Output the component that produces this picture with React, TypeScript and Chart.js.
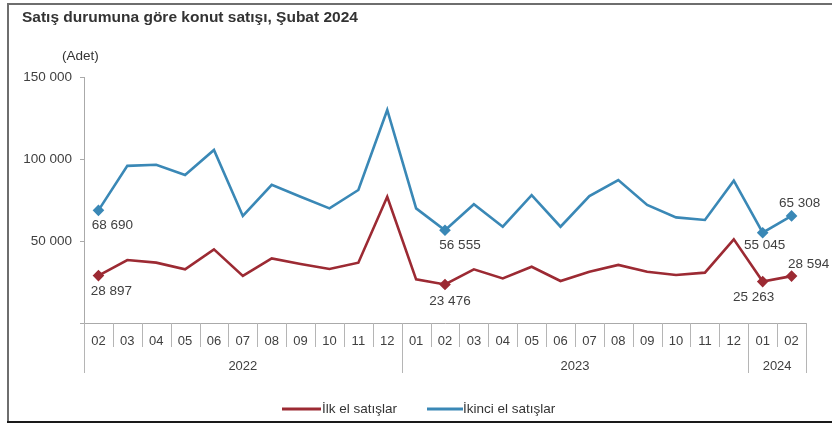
import React, { useEffect, useRef } from 'react';
import { Chart, registerables } from 'chart.js';

Chart.register(...registerables);

const months = ['02','03','04','05','06','07','08','09','10','11','12','01','02','03','04','05','06','07','08','09','10','11','12','01','02'];
const yearLabels = ['2022', '2023', '2024'];
const yearSpans = [11, 12, 2];

const ilkEl = [28897, 38400, 36800, 32700, 44900, 28700, 39400, 36000, 32900, 36800, 77000, 26600, 23476, 32700, 27200, 34300, 25600, 31300, 35400, 31300, 29300, 30700, 51000, 25263, 28594];
const ikinciEl = [68690, 95800, 96500, 90200, 105500, 65300, 84200, 77000, 69900, 81100, 129900, 69900, 56555, 72400, 58700, 78000, 58700, 77400, 87200, 72000, 64400, 62800, 86800, 55045, 65308];

const seriesNames = ['İlk el satışlar', 'İkinci el satışlar'];
const yTicks = [0, 50000, 100000, 150000];
const labeledIdx = [0, 12, 23, 24];

const title = 'Satış durumuna göre konut satışı, Şubat 2024';
const unitLabel = '(Adet)';

const RED = '#9c2a33';
const BLUE = '#3a88b6';
const FONT = "'Liberation Sans', Arial, sans-serif";

// label offsets (style only): [dx, dy] per labeled point
const labelOffsets: Record<number, [number, number][]> = {
  0: [[13, 16], [5, 17], [-9, 16], [17, -12]],
  1: [[14, 15], [15, 15], [2, 13], [8, -13]],
};

const fmt = (v: number) => {
  const s = Math.round(v).toString();
  return s.replace(/\B(?=(\d{3})+(?!\d))/g, ' ');
};

export default function App() {
  const ref = useRef<HTMLCanvasElement>(null);

  useEffect(() => {
    document.body.style.margin = '0';
    const canvas = ref.current!;
    const decor = {
      id: 'decor',
      afterDraw(chart: any) {
        const ctx = chart.ctx as CanvasRenderingContext2D;
        const area = chart.chartArea;
        const xs = chart.scales.x;
        ctx.save();
        // frame
        ctx.fillStyle = '#6e6e6e';
        ctx.fillRect(7, 3, 832, 2);
        ctx.fillRect(7, 3, 2, 420);
        ctx.fillStyle = '#1a1a1a';
        ctx.fillRect(7, 421, 832, 2);
        // title
        ctx.fillStyle = '#333';
        ctx.textBaseline = 'middle';
        ctx.textAlign = 'left';
        ctx.font = `bold 15.5px ${FONT}`;
        ctx.fillText(title, 22, 18);
        ctx.font = `13.5px ${FONT}`;
        ctx.fillText(unitLabel, 62, 56);

        // x axis category boxes
        const n = months.length;
        const bound = (i: number) => {
          if (i <= 0) return area.left;
          if (i >= n) return area.right;
          return (xs.getPixelForValue(i - 1) + xs.getPixelForValue(i)) / 2;
        };
        const yearBounds = new Set<number>([0]);
        let acc = 0;
        yearSpans.forEach((s) => { acc += s; yearBounds.add(acc); });
        ctx.strokeStyle = '#b5b5b5';
        ctx.lineWidth = 1;
        for (let i = 0; i <= n; i++) {
          const x = Math.round(bound(i)) + 0.5;
          ctx.beginPath();
          ctx.moveTo(x, area.bottom);
          ctx.lineTo(x, yearBounds.has(i) ? area.bottom + 50 : area.bottom + 24);
          ctx.stroke();
        }
        ctx.fillStyle = '#404040';
        ctx.textAlign = 'center';
        ctx.font = `13px ${FONT}`;
        months.forEach((m, i) => {
          ctx.fillText(m, xs.getPixelForValue(i), area.bottom + 18);
        });
        let start = 0;
        yearLabels.forEach((y, k) => {
          const end = start + yearSpans[k];
          ctx.fillText(y, (bound(start) + bound(end)) / 2, area.bottom + 43);
          start = end;
        });

        // data labels
        ctx.font = `13.5px ${FONT}`;
        [ilkEl, ikinciEl].forEach((arr, di) => {
          const meta = chart.getDatasetMeta(di);
          labeledIdx.forEach((idx, k) => {
            const p = meta.data[idx];
            const [dx, dy] = labelOffsets[di][k];
            ctx.fillText(fmt(arr[idx]), p.x + dx, p.y + dy);
          });
        });

        // legend
        const ly = 409;
        ctx.lineWidth = 3;
        ctx.strokeStyle = RED;
        ctx.beginPath(); ctx.moveTo(282, ly); ctx.lineTo(321, ly); ctx.stroke();
        ctx.strokeStyle = BLUE;
        ctx.beginPath(); ctx.moveTo(427, ly); ctx.lineTo(463, ly); ctx.stroke();
        ctx.fillStyle = '#333';
        ctx.textAlign = 'left';
        ctx.font = `13.5px ${FONT}`;
        ctx.fillText(seriesNames[0], 322, ly);
        ctx.fillText(seriesNames[1], 463, ly);
        ctx.restore();
      },
    };

    const pointR = (c: any) => (labeledIdx.includes(c.dataIndex) ? 4 : 0);

    const chart = new Chart(canvas, {
      type: 'line',
      data: {
        labels: months,
        datasets: [
          { label: seriesNames[0], data: ilkEl, borderColor: RED, backgroundColor: RED, borderWidth: 2.6, tension: 0, pointStyle: 'rectRot', pointRadius: pointR, pointHoverRadius: pointR },
          { label: seriesNames[1], data: ikinciEl, borderColor: BLUE, backgroundColor: BLUE, borderWidth: 2.6, tension: 0, pointStyle: 'rectRot', pointRadius: pointR, pointHoverRadius: pointR },
        ],
      },
      options: {
        animation: false,
        responsive: false,
        maintainAspectRatio: false,
        layout: { padding: { top: 77, right: 26, bottom: 52, left: 0 } },
        plugins: { legend: { display: false }, tooltip: { enabled: false }, title: { display: false } },
        scales: {
          x: {
            offset: true,
            grid: { display: false },
            ticks: { display: false },
            border: { display: true, color: '#aaaaaa' },
            afterFit: (s: any) => { s.height = 50; },
          },
          y: {
            min: yTicks[0],
            max: yTicks[yTicks.length - 1],
            afterBuildTicks: (s: any) => { s.ticks = yTicks.map((v) => ({ value: v })); },
            ticks: {
              padding: 8,
              color: '#404040',
              font: { family: FONT, size: 13.5 },
              callback: (v: any) => (Number(v) === 0 ? '' : fmt(Number(v))),
            },
            grid: { display: true, drawOnChartArea: false, drawTicks: true, tickLength: 4, color: '#aaaaaa' },
            border: { display: true, color: '#aaaaaa' },
            afterFit: (s: any) => { s.width = 84; },
          },
        },
      },
      plugins: [decor],
    });
    return () => chart.destroy();
  }, []);

  return <canvas ref={ref} width={832} height={425} style={{ display: 'block' }} />;
}
